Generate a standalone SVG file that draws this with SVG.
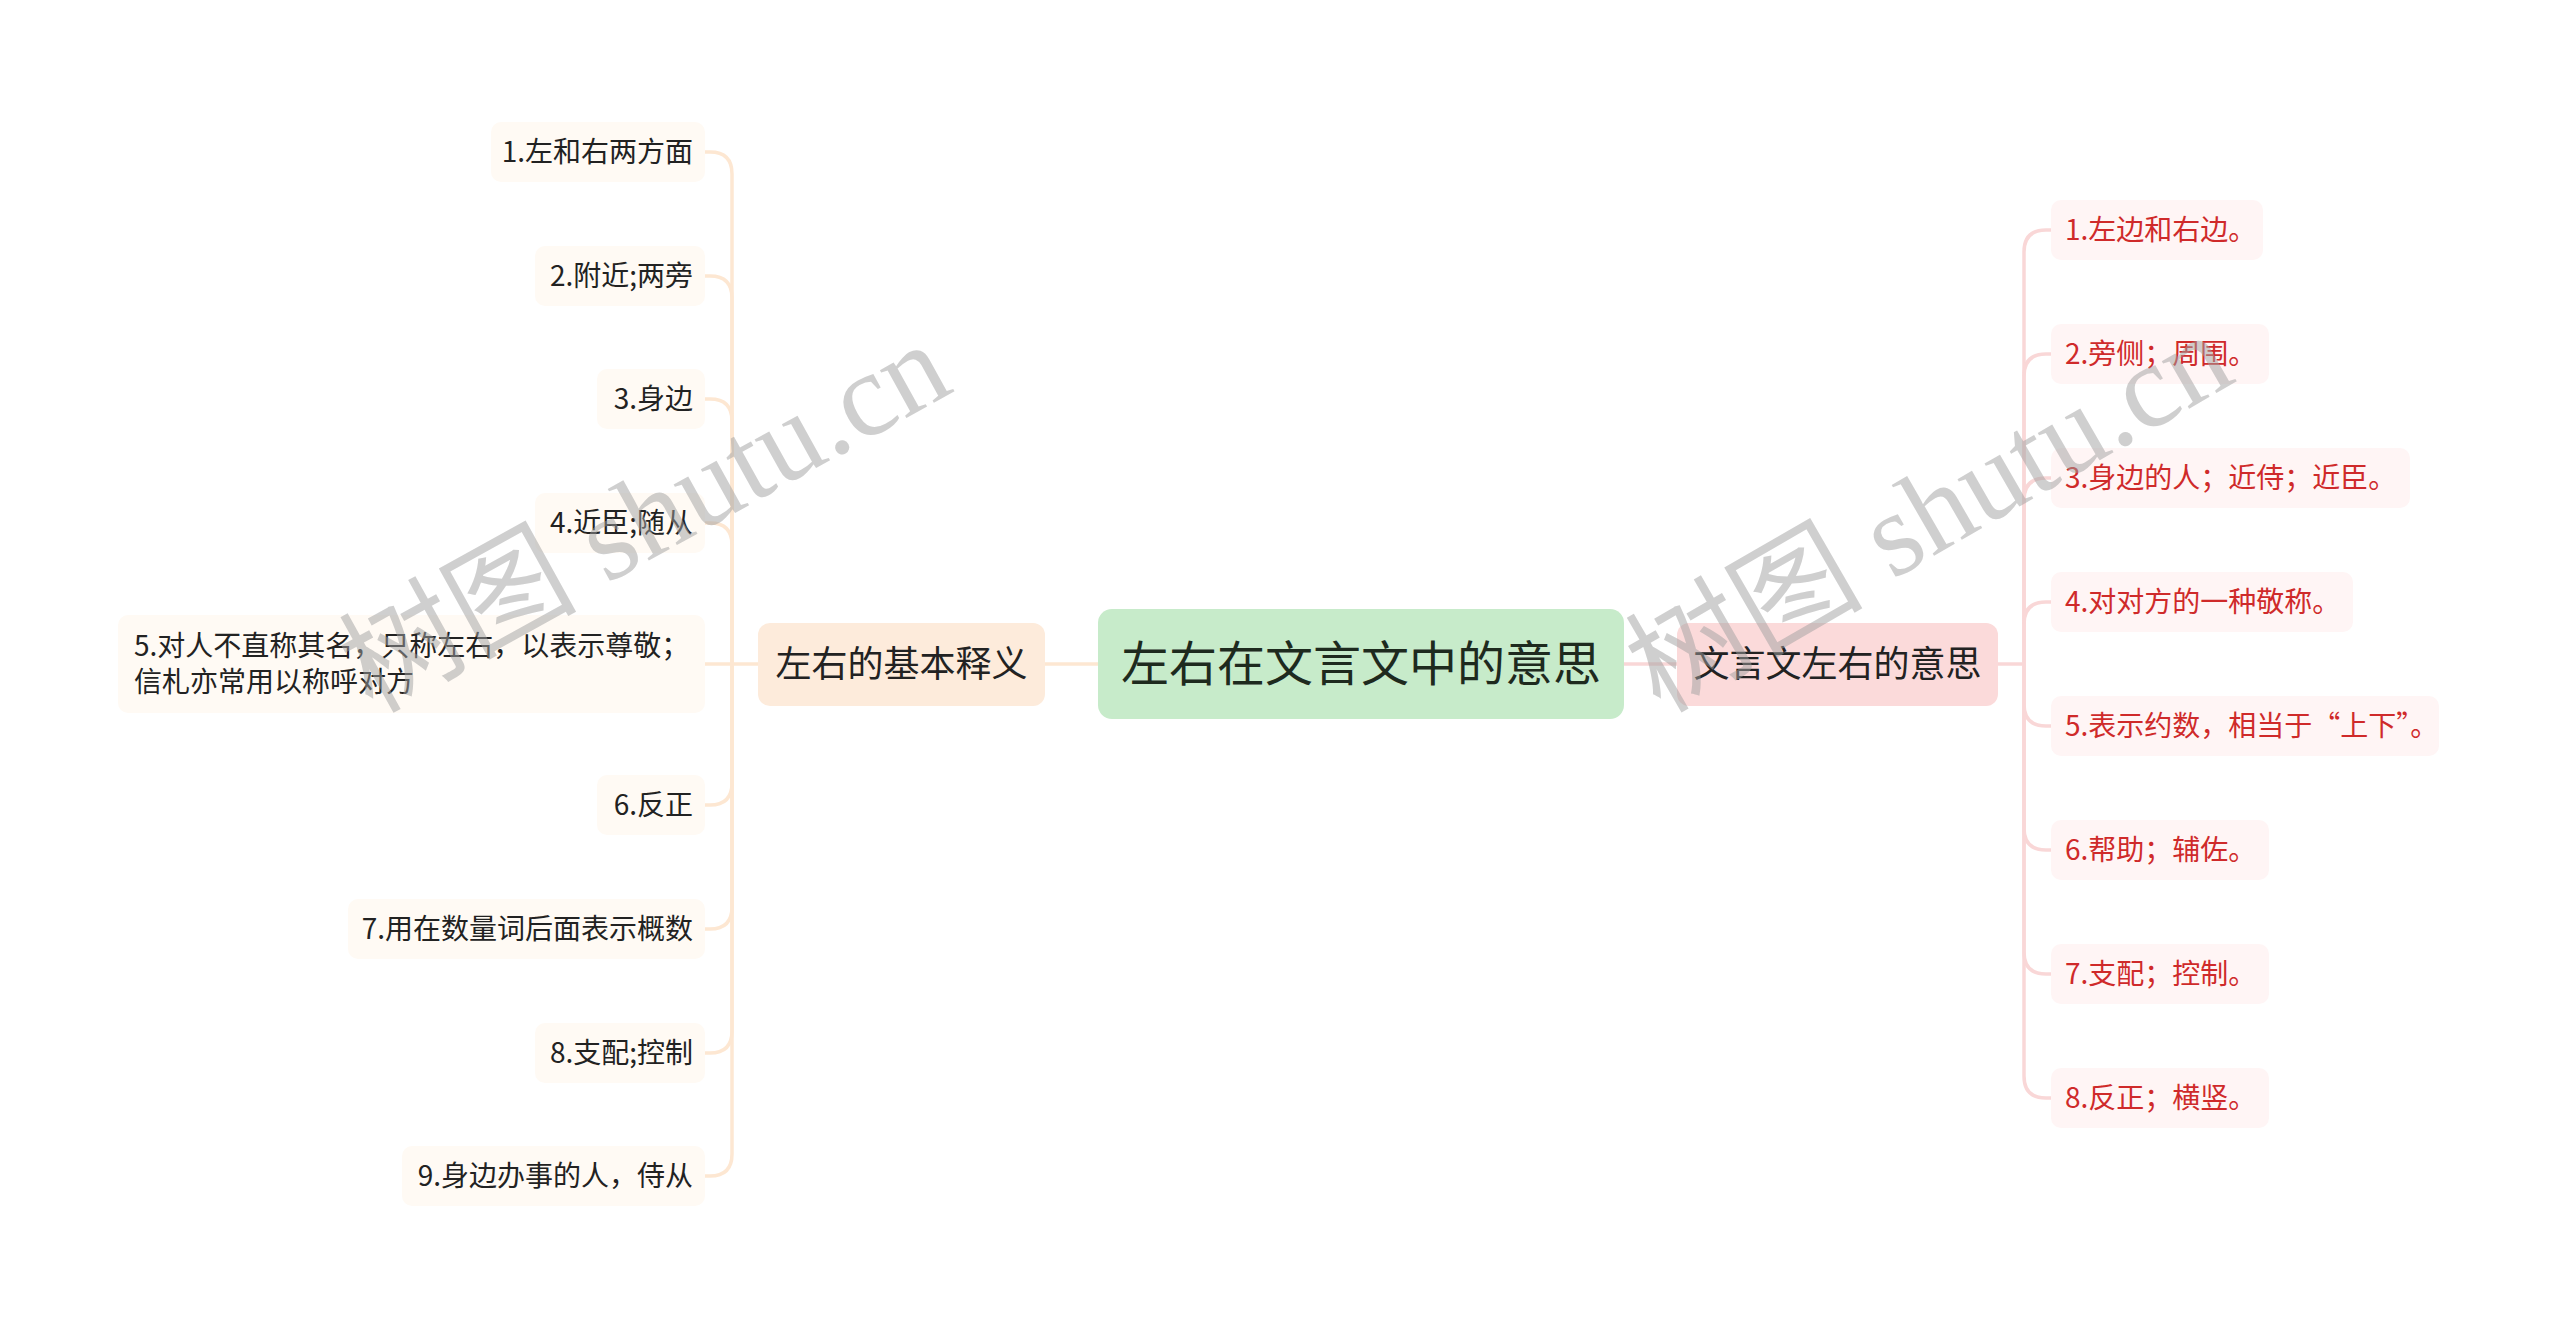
<svg xmlns="http://www.w3.org/2000/svg" width="2560" height="1329" viewBox="0 0 2560 1329">
<style>
text{font-family:"Noto Sans CJK SC","Noto Sans",sans-serif;}
.lbox{fill:#fffaf4;}
.rbox{fill:#fff5f5;}
.lt{font-size:28px;fill:#222;text-anchor:end;}
.rt{font-size:28px;fill:#cf2a2a;}
.lc{fill:none;stroke:#fde7d2;stroke-width:3.5;}
.rc{fill:none;stroke:#f9d7d7;stroke-width:3.5;}
.wm{font-family:"Liberation Serif","Noto Sans CJK SC",serif;font-size:119px;fill:#a0a0a0;fill-opacity:0.5;}
</style>
<rect width="2560" height="1329" fill="#fff"/>
<g id="connectors">
<path class="lc" d="M1045,664 H1098"/>
<path class="lc" d="M732,664 H758"/>
<path class="lc" d="M732,664 V174 Q732,152 710,152 H705"/>
<path class="lc" d="M732,664 V298 Q732,276 710,276 H705"/>
<path class="lc" d="M732,664 V421 Q732,399 710,399 H705"/>
<path class="lc" d="M732,664 V545 Q732,523 710,523 H705"/>
<path class="lc" d="M732,664 H705"/>
<path class="lc" d="M732,664 V783 Q732,805 710,805 H705"/>
<path class="lc" d="M732,664 V907 Q732,929 710,929 H705"/>
<path class="lc" d="M732,664 V1031 Q732,1053 710,1053 H705"/>
<path class="lc" d="M732,664 V1154 Q732,1176 710,1176 H705"/>
<path class="rc" d="M1624,664 H1677"/>
<path class="rc" d="M1998,664 H2024"/>
<path class="rc" d="M2024,664 V252 Q2024,230 2046,230 H2051"/>
<path class="rc" d="M2024,664 V376 Q2024,354 2046,354 H2051"/>
<path class="rc" d="M2024,664 V500 Q2024,478 2046,478 H2051"/>
<path class="rc" d="M2024,664 V624 Q2024,602 2046,602 H2051"/>
<path class="rc" d="M2024,664 V704 Q2024,726 2046,726 H2051"/>
<path class="rc" d="M2024,664 V828 Q2024,850 2046,850 H2051"/>
<path class="rc" d="M2024,664 V952 Q2024,974 2046,974 H2051"/>
<path class="rc" d="M2024,664 V1076 Q2024,1098 2046,1098 H2051"/>
</g>
<g id="root">
<rect x="1098" y="609" width="526" height="110" rx="14" fill="#c7ebca"/>
<text x="1361" y="681" font-size="48" fill="#1e2a1e" text-anchor="middle">左右在文言文中的意思</text>
</g>
<g id="left-main">
<rect x="758" y="623" width="287" height="83" rx="12" fill="#fdebdb"/>
<text x="901.5" y="677" font-size="36" fill="#222" text-anchor="middle">左右的基本释义</text>
</g>
<g id="right-main">
<rect x="1677" y="623" width="321" height="83" rx="12" fill="#fbdada"/>
<text x="1837.5" y="677" font-size="36" fill="#222" text-anchor="middle">文言文左右的意思</text>
</g>
<g id="l1"><rect class="lbox" x="491" y="122" width="214" height="60" rx="10"/><text class="lt" x="693" y="162">1.左和右两方面</text></g>
<g id="l2"><rect class="lbox" x="535" y="246" width="170" height="60" rx="10"/><text class="lt" x="693" y="286">2.附近;两旁</text></g>
<g id="l3"><rect class="lbox" x="597" y="369" width="108" height="60" rx="10"/><text class="lt" x="693" y="409">3.身边</text></g>
<g id="l4"><rect class="lbox" x="535" y="493" width="170" height="60" rx="10"/><text class="lt" x="693" y="533">4.近臣;随从</text></g>
<g id="l5"><rect class="lbox" x="118" y="615" width="587" height="98" rx="10"/><text class="lt" x="134" y="656" style="text-anchor:start">5.对人不直称其名，只称左右，以表示尊敬；</text><text class="lt" x="134" y="692" style="text-anchor:start">信札亦常用以称呼对方</text></g>
<g id="l6"><rect class="lbox" x="597" y="775" width="108" height="60" rx="10"/><text class="lt" x="693" y="815">6.反正</text></g>
<g id="l7"><rect class="lbox" x="348" y="899" width="357" height="60" rx="10"/><text class="lt" x="693" y="939">7.用在数量词后面表示概数</text></g>
<g id="l8"><rect class="lbox" x="535" y="1023" width="170" height="60" rx="10"/><text class="lt" x="693" y="1063">8.支配;控制</text></g>
<g id="l9"><rect class="lbox" x="402" y="1146" width="303" height="60" rx="10"/><text class="lt" x="693" y="1186">9.身边办事的人，侍从</text></g>
<g id="r1"><rect class="rbox" x="2051" y="200" width="212" height="60" rx="10"/><text class="rt" x="2065" y="240">1.左边和右边。</text></g>
<g id="r2"><rect class="rbox" x="2051" y="324" width="218" height="60" rx="10"/><text class="rt" x="2065" y="364">2.旁侧；周围。</text></g>
<g id="r3"><rect class="rbox" x="2051" y="448" width="359" height="60" rx="10"/><text class="rt" x="2065" y="488">3.身边的人；近侍；近臣。</text></g>
<g id="r4"><rect class="rbox" x="2051" y="572" width="302" height="60" rx="10"/><text class="rt" x="2065" y="612">4.对对方的一种敬称。</text></g>
<g id="r5"><rect class="rbox" x="2051" y="696" width="388" height="60" rx="10"/><text class="rt" x="2065" y="736">5.表示约数，相当于“上下”。</text></g>
<g id="r6"><rect class="rbox" x="2051" y="820" width="218" height="60" rx="10"/><text class="rt" x="2065" y="860">6.帮助；辅佐。</text></g>
<g id="r7"><rect class="rbox" x="2051" y="944" width="218" height="60" rx="10"/><text class="rt" x="2065" y="984">7.支配；控制。</text></g>
<g id="r8"><rect class="rbox" x="2051" y="1068" width="218" height="60" rx="10"/><text class="rt" x="2065" y="1108">8.反正；横竖。</text></g>
<g id="watermarks">
<text class="wm" transform="translate(372,714) rotate(-29)">树图 shutu.cn</text>
<text class="wm" transform="translate(1660,714) rotate(-30)">树图 shutu.cn</text>
</g>
</svg>
